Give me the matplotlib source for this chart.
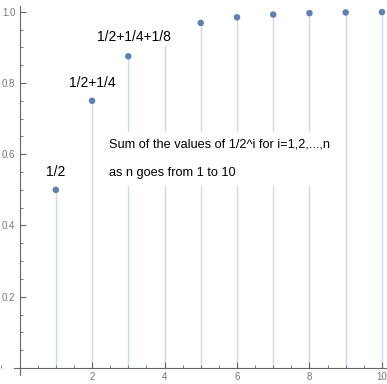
import numpy as np
import matplotlib.pyplot as plt
from matplotlib.ticker import MultipleLocator

# n = 1..10, partial sums of 1/2^i
n_vals = [1, 2, 3, 4, 5, 6, 7, 8, 9, 10]
sums = [0.5, 0.75, 0.875, 0.9375, 0.96875, 0.984375,
        0.9921875, 0.99609375, 0.998046875, 0.9990234375]

labels = ["1/2", "1/2+1/4", "1/2+1/4+1/8"]
label_pos = [(1, 0.55), (2, 0.80), (3.15, 0.93)]

note = "Sum of the values of 1/2^i for i=1,2,...,n\nas n goes from 1 to 10"

fam = ["Liberation Sans Narrow", "Liberation Sans", "DejaVu Sans"]

fig = plt.figure(figsize=(3.87, 3.84), dpi=100)
ax = fig.add_axes([0, 0, 1, 1])

ax.vlines(n_vals, 0, sums, color="#ccd8ec", lw=1.0, zorder=1)
ax.scatter(n_vals, sums, s=22, color="#5e81b5", zorder=3, edgecolors="none")

for txt, (x, y) in zip(labels, label_pos):
    ax.text(x, y, txt, ha="center", va="center", fontsize=10, family=fam,
            zorder=4, bbox=dict(facecolor="white", edgecolor="none", pad=1.5))

ax.text(2.47, 0.587, note, ha="left", va="center", fontsize=9.2, family=fam,
        linespacing=2.85, zorder=4,
        bbox=dict(facecolor="white", edgecolor="none", pad=5))

ax.set_xlim(-0.54, 10.14)
ax.set_ylim(-0.045, 1.033)

for s in ["top", "right"]:
    ax.spines[s].set_visible(False)
ax.spines["left"].set_position(("data", 0))
ax.spines["bottom"].set_position(("data", 0))
ax.spines["left"].set_bounds(-0.02, 1.015)
ax.spines["bottom"].set_bounds(-0.15, 10.14)
ax.spines["left"].set_color("#666666")
ax.spines["bottom"].set_color("#666666")

ax.xaxis.set_minor_locator(MultipleLocator(0.5))
ax.yaxis.set_minor_locator(MultipleLocator(0.05))
ax.set_xticks([2, 4, 6, 8, 10])
ax.set_yticks([0.2, 0.4, 0.6, 0.8, 1.0])
ax.set_yticklabels(["0.2", "0.4", "0.6", "0.8", "1.0"])

ax.tick_params(axis="x", which="major", direction="in", length=4, color="#666666",
               labelsize=7, labelcolor="#777777", pad=3)
ax.tick_params(axis="x", which="minor", direction="in", length=2.5, color="#666666")
ax.tick_params(axis="y", which="major", direction="in", length=4, color="#666666",
               labelsize=7, labelcolor="#777777", pad=3)
ax.tick_params(axis="y", which="minor", direction="in", length=2.5, color="#666666")
for lab in ax.get_xticklabels() + ax.get_yticklabels():
    lab.set_family(fam)

fig.savefig("out.png", dpi=100)
